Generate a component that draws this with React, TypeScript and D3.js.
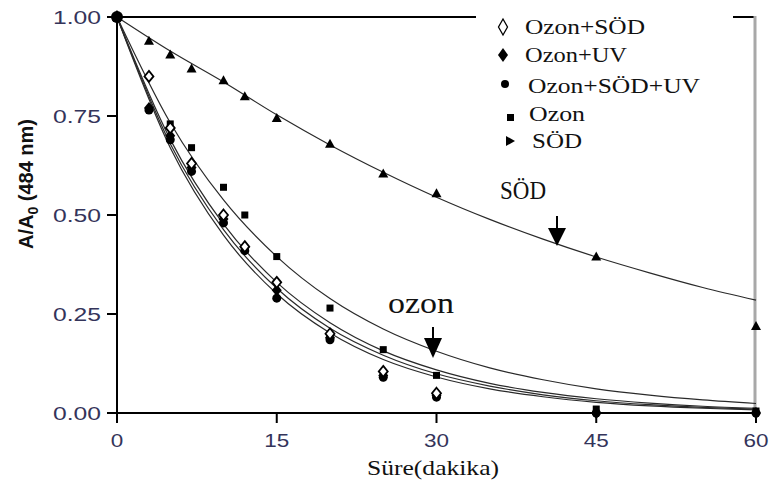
import React from "react";
import * as d3 from "d3";

// measured points (time in minutes, A/A0)
const sodTime = [0, 3, 5, 7, 10, 12, 15, 20, 25, 30, 45, 60];
const sodValues = [1, 0.94, 0.905, 0.87, 0.84, 0.8, 0.745, 0.68, 0.605, 0.555, 0.395, 0.22];

const ozonTime = [0, 5, 7, 10, 12, 15, 20, 25, 30, 45, 60];
const ozonValues = [1, 0.73, 0.67, 0.57, 0.5, 0.395, 0.265, 0.16, 0.095, 0.01, 0.005];

const ozonSodTime = [0, 3, 5, 7, 10, 12, 15, 20, 25, 30];
const ozonSodValues = [1, 0.85, 0.72, 0.63, 0.5, 0.42, 0.33, 0.2, 0.105, 0.05];

const ozonUvTime = [0, 3, 5, 7, 10, 12, 15, 20, 25, 30, 45, 60];
const ozonUvValues = [1, 0.77, 0.7, 0.62, 0.49, 0.42, 0.31, 0.19, 0.095, 0.045, 0, 0];

const ozonSodUvTime = [0, 3, 5, 7, 10, 12, 15, 20, 25, 30, 45, 60];
const ozonSodUvValues = [1, 0.765, 0.69, 0.61, 0.48, 0.41, 0.29, 0.185, 0.09, 0.04, 0, 0];

// fitted curves
const fitTime = [0, 5, 10, 15, 20, 25, 30, 35, 40, 45, 50, 55, 60];
const fitSod = [1, 0.914, 0.836, 0.753, 0.677, 0.608, 0.545, 0.489, 0.439, 0.394, 0.354, 0.317, 0.285];
const fitOzon = [1, 0.733, 0.538, 0.395, 0.289, 0.212, 0.156, 0.114, 0.084, 0.061, 0.045, 0.033, 0.024];
const fitOzonSod = [1, 0.691, 0.477, 0.33, 0.228, 0.157, 0.109, 0.075, 0.052, 0.036, 0.025, 0.017, 0.012];
const fitOzonUv = [1, 0.68, 0.463, 0.315, 0.214, 0.146, 0.099, 0.068, 0.046, 0.031, 0.021, 0.014, 0.01];
const fitOzonSodUv = [1, 0.67, 0.449, 0.301, 0.202, 0.135, 0.091, 0.061, 0.041, 0.027, 0.018, 0.012, 0.008];

const xTicks = [0, 15, 30, 45, 60];
const yTicks = [0, 0.25, 0.5, 0.75, 1.0];

const legendLabels = ["Ozon+SÖD", "Ozon+UV", "Ozon+SÖD+UV", "Ozon", "SÖD"];

const W = 771;
const H = 483;
const tickColor = "#34345a";
const serif = "'Liberation Serif', 'Times New Roman', serif";
const sans = "'Liberation Sans', Arial, sans-serif";

const x = d3.scaleLinear().domain([0, 60]).range([117, 756]);
const y = d3.scaleLinear().domain([0, 1]).range([413, 17]);

const zip = (t: number[], v: number[]) => t.map((d, i) => [d, v[i]] as [number, number]);

const fitLine = d3
  .line<[number, number]>()
  .x((d) => x(d[0]))
  .y((d) => y(d[1]))
  .curve(d3.curveMonotoneX);

const diamond = (w: number, h: number) => `M0,${-h}L${w},0L0,${h}L${-w},0Z`;
const triUp = "M0,-5L5,4L-5,4Z";
const triRight = "M-4,-5L5,0L-4,5Z";

export default function App() {
  const fits = [fitSod, fitOzon, fitOzonSod, fitOzonUv, fitOzonSodUv];

  return (
    <svg
      width={W}
      height={H}
      style={{ position: "absolute", left: 0, top: 0, background: "#fff" }}
    >
      {/* frame: top line broken by legend, grey right edge */}
      <line x1={117} y1={17} x2={476} y2={17} stroke="#000" strokeWidth={2} />
      <line x1={733} y1={17} x2={755} y2={17} stroke="#000" strokeWidth={2} />
      <line x1={755} y1={16} x2={755} y2={413} stroke="#a8a8a8" strokeWidth={3} />

      {/* fitted curves */}
      {fits.map((f, i) => (
        <path
          key={i}
          d={fitLine(zip(fitTime, f)) || ""}
          fill="none"
          stroke="#2a2a2a"
          strokeWidth={1.2}
        />
      ))}

      {/* axes */}
      <line x1={117} y1={16} x2={117} y2={423} stroke="#000" strokeWidth={2} />
      <line x1={107} y1={413} x2={756} y2={413} stroke="#000" strokeWidth={2} />
      {yTicks.map((t) => (
        <g key={"y" + t}>
          <line x1={107} x2={117} y1={y(t)} y2={y(t)} stroke="#000" strokeWidth={2} />
          <text
            x={101}
            y={y(t)}
            dy="0.36em"
            textAnchor="end"
            fontFamily={sans}
            fontSize={19}
            fill={tickColor}
            textLength={48}
            lengthAdjust="spacingAndGlyphs"
          >
            {t.toFixed(2)}
          </text>
        </g>
      ))}
      {xTicks.map((t) => (
        <g key={"x" + t}>
          <line x1={x(t)} x2={x(t)} y1={413} y2={423} stroke="#000" strokeWidth={2} />
          <text
            x={x(t)}
            y={447}
            textAnchor="middle"
            fontFamily={sans}
            fontSize={19}
            fill={tickColor}
            textLength={String(t).length * 12.5}
            lengthAdjust="spacingAndGlyphs"
          >
            {t}
          </text>
        </g>
      ))}

      {/* axis titles */}
      <text
        x={433}
        y={475}
        textAnchor="middle"
        fontFamily={serif}
        fontSize={22}
        fill="#111"
        textLength={132}
        lengthAdjust="spacingAndGlyphs"
      >
        Süre(dakika)
      </text>
      <text
        transform="translate(33,184) rotate(-90)"
        textAnchor="middle"
        fontFamily={sans}
        fontWeight="bold"
        fontSize={20}
        fill="#111"
      >
        A/A<tspan fontSize={14} dy={5}>0</tspan>
        <tspan dy={-5}> (484 nm)</tspan>
      </text>

      {/* points */}
      {zip(ozonTime, ozonValues).map((d, i) => (
        <rect key={"o" + i} x={x(d[0]) - 3.5} y={y(d[1]) - 3.5} width={7} height={7} fill="#000" />
      ))}
      {zip(sodTime, sodValues).map((d, i) => (
        <path key={"s" + i} d={triUp} transform={`translate(${x(d[0])},${y(d[1])})`} fill="#000" />
      ))}
      {zip(ozonSodUvTime, ozonSodUvValues).map((d, i) => (
        <circle key={"c" + i} cx={x(d[0])} cy={y(d[1])} r={4.5} fill="#000" />
      ))}
      {zip(ozonUvTime, ozonUvValues).map((d, i) => (
        <path key={"u" + i} d={diamond(5, 6)} transform={`translate(${x(d[0])},${y(d[1])})`} fill="#000" />
      ))}
      {zip(ozonSodTime, ozonSodValues).map((d, i) => (
        <path
          key={"os" + i}
          d={diamond(4.5, 5.5)}
          transform={`translate(${x(d[0])},${y(d[1])})`}
          fill="#fff"
          stroke="#000"
          strokeWidth={1.8}
        />
      ))}
      <circle cx={x(0)} cy={y(1)} r={6} fill="#000" />

      {/* annotations */}
      <text
        x={500}
        y={199}
        fontFamily={serif}
        fontSize={26}
        fill="#111"
        textLength={46}
        lengthAdjust="spacingAndGlyphs"
      >
        SÖD
      </text>
      <line x1={557} y1={216} x2={557} y2={232} stroke="#000" strokeWidth={2} />
      <path d="M548,228L566,228L557,246Z" fill="#000" />
      <text
        x={388}
        y={313}
        fontFamily={serif}
        fontSize={30}
        fill="#111"
        textLength={66}
        lengthAdjust="spacingAndGlyphs"
      >
        ozon
      </text>
      <line x1={433} y1={327} x2={433} y2={342} stroke="#000" strokeWidth={2} />
      <path d="M424,338L442,338L433,358Z" fill="#000" />

      {/* legend */}
      <g fontFamily={serif} fontSize={21} fill="#111">
        <path d="M503,19L507.5,27L503,35L498.5,27Z" fill="#fff" stroke="#000" strokeWidth={1.3} />
        <path d="M503,48L508,55L503,62L498,55Z" fill="#000" />
        <circle cx={505} cy={84} r={4} fill="#000" />
        <rect x={507} y={114} width={7} height={7} fill="#000" />
        <path d={triRight} transform="translate(510,141)" fill="#000" />
        {legendLabels.map((l, i) => (
          <text
            key={l}
            x={[525, 525, 528, 529, 532][i]}
            y={[34, 62, 93, 121, 148][i]}
            textLength={[120, 102, 172, 56, 50][i]}
            lengthAdjust="spacingAndGlyphs"
          >
            {l}
          </text>
        ))}
      </g>
    </svg>
  );
}
